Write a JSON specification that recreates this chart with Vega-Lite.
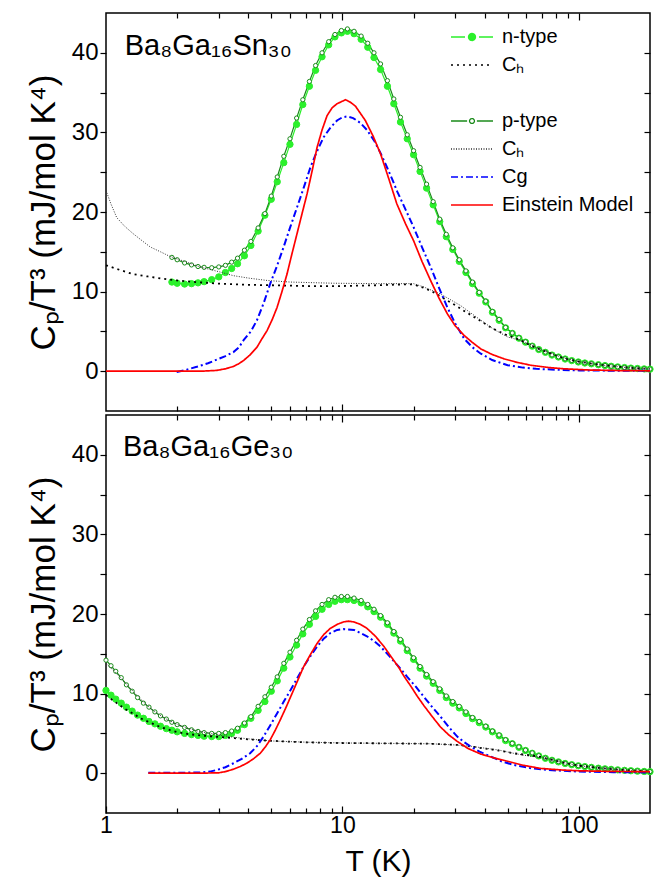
{
"$schema": "https://vega.github.io/schema/vega-lite/v6.json",
"background": "white",
"padding": {"left": 25, "top": 11, "right": 10, "bottom": 4},
"spacing": 0,
"config": {
 "view": {"stroke": "#000", "strokeWidth": 1.5},
 "font": "Liberation Sans",
 "axis": {"domain": false, "grid": false, "tickColor": "#000", "tickWidth": 1.2, "labelColor": "#000", "titleColor": "#000", "labelFont": "Liberation Sans", "titleFont": "Liberation Sans", "titleFontWeight": "normal", "labelFlush": false, "labelOverlap": false}
},
"datasets": {
 "top_pts": [
  {"series":"n-type","T":1.9,"v":11.2},{"series":"n-type","T":2.0,"v":11.05},{"series":"n-type","T":2.15,"v":10.95},{"series":"n-type","T":2.3,"v":11.0},{"series":"n-type","T":2.45,"v":11.1},{"series":"n-type","T":2.6,"v":11.25},{"series":"n-type","T":2.8,"v":11.5},{"series":"n-type","T":3.0,"v":11.85},{"series":"n-type","T":3.2,"v":12.4},{"series":"n-type","T":3.4,"v":12.9},{"series":"n-type","T":3.6,"v":13.5},{"series":"n-type","T":3.85,"v":14.5},{"series":"n-type","T":4.1,"v":15.8},{"series":"n-type","T":4.4,"v":17.6},{"series":"n-type","T":4.7,"v":19.6},{"series":"n-type","T":5.0,"v":21.6},{"series":"n-type","T":5.3,"v":23.8},{"series":"n-type","T":5.65,"v":26.2},{"series":"n-type","T":6.0,"v":28.5},{"series":"n-type","T":6.4,"v":31.0},{"series":"n-type","T":6.8,"v":33.5},{"series":"n-type","T":7.25,"v":35.8},{"series":"n-type","T":7.7,"v":37.8},{"series":"n-type","T":8.2,"v":39.5},{"series":"n-type","T":8.75,"v":41.0},{"series":"n-type","T":9.3,"v":42.0},{"series":"n-type","T":9.9,"v":42.5},{"series":"n-type","T":10.5,"v":42.7},{"series":"n-type","T":11.2,"v":42.4},{"series":"n-type","T":12,"v":41.7},{"series":"n-type","T":12.8,"v":40.7},{"series":"n-type","T":13.6,"v":39.4},{"series":"n-type","T":14.5,"v":37.9},{"series":"n-type","T":15.5,"v":35.8},{"series":"n-type","T":16.5,"v":33.6},{"series":"n-type","T":17.6,"v":31.3},{"series":"n-type","T":18.8,"v":29.2},{"series":"n-type","T":20,"v":27.2},{"series":"n-type","T":21.3,"v":25.1},{"series":"n-type","T":22.7,"v":23.0},{"series":"n-type","T":24.2,"v":20.9},{"series":"n-type","T":25.8,"v":18.8},{"series":"n-type","T":27.5,"v":16.9},{"series":"n-type","T":29.3,"v":15.3},{"series":"n-type","T":31.2,"v":13.8},{"series":"n-type","T":33.3,"v":12.4},{"series":"n-type","T":35.5,"v":11.0},{"series":"n-type","T":37.9,"v":9.8},{"series":"n-type","T":40.4,"v":8.7},{"series":"n-type","T":43.1,"v":7.4},{"series":"n-type","T":46,"v":6.4},{"series":"n-type","T":49,"v":5.45},{"series":"n-type","T":52.3,"v":4.75},{"series":"n-type","T":55.8,"v":4.15},{"series":"n-type","T":59.5,"v":3.65},{"series":"n-type","T":63.5,"v":3.15},{"series":"n-type","T":67.7,"v":2.72},{"series":"n-type","T":72.2,"v":2.37},{"series":"n-type","T":77,"v":2.03},{"series":"n-type","T":82,"v":1.78},{"series":"n-type","T":87.5,"v":1.53},{"series":"n-type","T":93.3,"v":1.33},{"series":"n-type","T":99.5,"v":1.16},{"series":"n-type","T":106,"v":1.03},{"series":"n-type","T":113,"v":0.93},{"series":"n-type","T":121,"v":0.81},{"series":"n-type","T":129,"v":0.71},{"series":"n-type","T":137,"v":0.62},{"series":"n-type","T":146,"v":0.54},{"series":"n-type","T":156,"v":0.46},{"series":"n-type","T":166,"v":0.39},{"series":"n-type","T":177,"v":0.34},{"series":"n-type","T":189,"v":0.29},{"series":"n-type","T":200,"v":0.26},
  {"series":"p-type","T":1.9,"v":14.3},{"series":"p-type","T":2.0,"v":14.0},{"series":"p-type","T":2.15,"v":13.6},{"series":"p-type","T":2.3,"v":13.35},{"series":"p-type","T":2.45,"v":13.15},{"series":"p-type","T":2.6,"v":13.05},{"series":"p-type","T":2.8,"v":13.0},{"series":"p-type","T":3.0,"v":13.1},{"series":"p-type","T":3.2,"v":13.3},{"series":"p-type","T":3.4,"v":13.7},{"series":"p-type","T":3.6,"v":14.2},{"series":"p-type","T":3.85,"v":15.2},{"series":"p-type","T":4.1,"v":16.3},{"series":"p-type","T":4.4,"v":18.0},{"series":"p-type","T":4.7,"v":19.8},{"series":"p-type","T":5.0,"v":22.0},{"series":"p-type","T":5.3,"v":24.4},{"series":"p-type","T":5.65,"v":27.0},{"series":"p-type","T":6.0,"v":29.2},{"series":"p-type","T":6.4,"v":31.8},{"series":"p-type","T":6.8,"v":34.1},{"series":"p-type","T":7.25,"v":36.4},{"series":"p-type","T":7.7,"v":38.4},{"series":"p-type","T":8.2,"v":40.0},{"series":"p-type","T":8.75,"v":41.4},{"series":"p-type","T":9.3,"v":42.3},{"series":"p-type","T":9.9,"v":42.8},{"series":"p-type","T":10.5,"v":43.0},{"series":"p-type","T":11.2,"v":42.7},{"series":"p-type","T":12,"v":42.1},{"series":"p-type","T":12.8,"v":41.2},{"series":"p-type","T":13.6,"v":40.0},{"series":"p-type","T":14.5,"v":38.6},{"series":"p-type","T":15.5,"v":36.5},{"series":"p-type","T":16.5,"v":34.2},{"series":"p-type","T":17.6,"v":31.9},{"series":"p-type","T":18.8,"v":29.7},{"series":"p-type","T":20,"v":27.7},{"series":"p-type","T":21.3,"v":25.6},{"series":"p-type","T":22.7,"v":23.5},{"series":"p-type","T":24.2,"v":21.3},{"series":"p-type","T":25.8,"v":19.1},{"series":"p-type","T":27.5,"v":17.2},{"series":"p-type","T":29.3,"v":15.5},{"series":"p-type","T":31.2,"v":14.0},{"series":"p-type","T":33.3,"v":12.6},{"series":"p-type","T":35.5,"v":11.2},{"series":"p-type","T":37.9,"v":9.9},{"series":"p-type","T":40.4,"v":8.8},{"series":"p-type","T":43.1,"v":7.5},{"series":"p-type","T":46,"v":6.5},{"series":"p-type","T":49,"v":5.5},{"series":"p-type","T":52.3,"v":4.8},{"series":"p-type","T":55.8,"v":4.2},{"series":"p-type","T":59.5,"v":3.7},{"series":"p-type","T":63.5,"v":3.2},{"series":"p-type","T":67.7,"v":2.75},{"series":"p-type","T":72.2,"v":2.4},{"series":"p-type","T":77,"v":2.05},{"series":"p-type","T":82,"v":1.8},{"series":"p-type","T":87.5,"v":1.55},{"series":"p-type","T":93.3,"v":1.35},{"series":"p-type","T":99.5,"v":1.18},{"series":"p-type","T":106,"v":1.05},{"series":"p-type","T":113,"v":0.95},{"series":"p-type","T":121,"v":0.83},{"series":"p-type","T":129,"v":0.73},{"series":"p-type","T":137,"v":0.63},{"series":"p-type","T":146,"v":0.55},{"series":"p-type","T":156,"v":0.47},{"series":"p-type","T":166,"v":0.4},{"series":"p-type","T":177,"v":0.35},{"series":"p-type","T":189,"v":0.3},{"series":"p-type","T":200,"v":0.27}
 ],
 "top_curves": [
  {"series":"Ch_n","T":1,"v":13.3},{"series":"Ch_n","T":1.15,"v":12.7},{"series":"Ch_n","T":1.3,"v":12.2},{"series":"Ch_n","T":1.5,"v":11.9},{"series":"Ch_n","T":1.75,"v":11.6},{"series":"Ch_n","T":2.0,"v":11.4},{"series":"Ch_n","T":2.4,"v":11.2},{"series":"Ch_n","T":3.0,"v":11.0},{"series":"Ch_n","T":4.0,"v":10.85},{"series":"Ch_n","T":5.0,"v":10.8},{"series":"Ch_n","T":7.0,"v":10.7},{"series":"Ch_n","T":10,"v":10.7},{"series":"Ch_n","T":14,"v":10.8},{"series":"Ch_n","T":18,"v":10.9},{"series":"Ch_n","T":20,"v":10.9},{"series":"Ch_n","T":22,"v":10.5},{"series":"Ch_n","T":24,"v":10.0},{"series":"Ch_n","T":27,"v":9.1},{"series":"Ch_n","T":30,"v":8.3},{"series":"Ch_n","T":33,"v":7.5},{"series":"Ch_n","T":38,"v":6.4},{"series":"Ch_n","T":43,"v":5.4},{"series":"Ch_n","T":49,"v":4.6},{"series":"Ch_n","T":56,"v":3.95},{"series":"Ch_n","T":62,"v":3.3},{"series":"Ch_n","T":67.7,"v":2.8},{"series":"Ch_n","T":75,"v":2.3},{"series":"Ch_n","T":82,"v":1.85},{"series":"Ch_n","T":90,"v":1.5},{"series":"Ch_n","T":100,"v":1.2},{"series":"Ch_n","T":115,"v":0.92},{"series":"Ch_n","T":130,"v":0.74},{"series":"Ch_n","T":150,"v":0.54},{"series":"Ch_n","T":170,"v":0.4},{"series":"Ch_n","T":200,"v":0.28},
  {"series":"Ch_p","T":1,"v":22.7},{"series":"Ch_p","T":1.05,"v":21.0},{"series":"Ch_p","T":1.11,"v":19.3},{"series":"Ch_p","T":1.2,"v":18.2},{"series":"Ch_p","T":1.3,"v":17.3},{"series":"Ch_p","T":1.42,"v":16.4},{"series":"Ch_p","T":1.54,"v":15.6},{"series":"Ch_p","T":1.7,"v":15.0},{"series":"Ch_p","T":1.84,"v":14.5},{"series":"Ch_p","T":2.0,"v":14.1},{"series":"Ch_p","T":2.2,"v":13.7},{"series":"Ch_p","T":2.5,"v":13.1},{"series":"Ch_p","T":3.0,"v":12.5},{"series":"Ch_p","T":3.46,"v":12.0},{"series":"Ch_p","T":4.0,"v":11.7},{"series":"Ch_p","T":4.8,"v":11.4},{"series":"Ch_p","T":6,"v":11.2},{"series":"Ch_p","T":9.2,"v":11.05},{"series":"Ch_p","T":14,"v":11.0},{"series":"Ch_p","T":20,"v":11.0},{"series":"Ch_p","T":22,"v":10.6},{"series":"Ch_p","T":26,"v":9.7},{"series":"Ch_p","T":31.6,"v":8.25},{"series":"Ch_p","T":38.5,"v":6.4},{"series":"Ch_p","T":44,"v":5.2},{"series":"Ch_p","T":50,"v":4.3},{"series":"Ch_p","T":56,"v":3.9},{"series":"Ch_p","T":62,"v":3.4},{"series":"Ch_p","T":70,"v":2.65},{"series":"Ch_p","T":85,"v":1.7},{"series":"Ch_p","T":100,"v":1.2},{"series":"Ch_p","T":115,"v":0.92},{"series":"Ch_p","T":130,"v":0.72},{"series":"Ch_p","T":150,"v":0.53},{"series":"Ch_p","T":170,"v":0.4},{"series":"Ch_p","T":200,"v":0.28},
  {"series":"Cg","T":1.99,"v":-0.1},{"series":"Cg","T":2.2,"v":0.2},{"series":"Cg","T":2.42,"v":0.55},{"series":"Cg","T":2.7,"v":1.0},{"series":"Cg","T":2.94,"v":1.45},{"series":"Cg","T":3.2,"v":1.9},{"series":"Cg","T":3.46,"v":2.4},{"series":"Cg","T":3.65,"v":3.0},{"series":"Cg","T":3.82,"v":3.9},{"series":"Cg","T":4.1,"v":5.0},{"series":"Cg","T":4.35,"v":6.4},{"series":"Cg","T":4.65,"v":8.6},{"series":"Cg","T":4.95,"v":11.0},{"series":"Cg","T":5.3,"v":13.3},{"series":"Cg","T":5.64,"v":15.6},{"series":"Cg","T":6.0,"v":18.0},{"series":"Cg","T":6.43,"v":20.6},{"series":"Cg","T":6.85,"v":23.0},{"series":"Cg","T":7.32,"v":25.6},{"series":"Cg","T":7.8,"v":27.6},{"series":"Cg","T":8.33,"v":29.4},{"series":"Cg","T":8.9,"v":30.6},{"series":"Cg","T":9.49,"v":31.5},{"series":"Cg","T":10.0,"v":31.9},{"series":"Cg","T":10.46,"v":32.0},{"series":"Cg","T":11.1,"v":31.8},{"series":"Cg","T":11.9,"v":31.2},{"series":"Cg","T":12.7,"v":30.3},{"series":"Cg","T":13.6,"v":29.0},{"series":"Cg","T":14.5,"v":27.4},{"series":"Cg","T":15.5,"v":25.5},{"series":"Cg","T":16.3,"v":24.0},{"series":"Cg","T":17.1,"v":22.5},{"series":"Cg","T":18.5,"v":20.3},{"series":"Cg","T":20,"v":18.1},{"series":"Cg","T":21.7,"v":15.6},{"series":"Cg","T":23.6,"v":13.1},{"series":"Cg","T":25.6,"v":10.5},{"series":"Cg","T":27.8,"v":8.0},{"series":"Cg","T":30,"v":6.0},{"series":"Cg","T":32.7,"v":4.1},{"series":"Cg","T":35.5,"v":3.0},{"series":"Cg","T":38.5,"v":2.2},{"series":"Cg","T":43,"v":1.4},{"series":"Cg","T":50,"v":0.75},{"series":"Cg","T":58,"v":0.45},{"series":"Cg","T":66,"v":0.3},{"series":"Cg","T":80,"v":0.18},{"series":"Cg","T":100,"v":0.1},{"series":"Cg","T":140,"v":0.06},{"series":"Cg","T":200,"v":0.04},
  {"series":"Einstein","T":1,"v":0},{"series":"Einstein","T":2.0,"v":0},{"series":"Einstein","T":2.6,"v":0.02},{"series":"Einstein","T":2.94,"v":0.1},{"series":"Einstein","T":3.2,"v":0.3},{"series":"Einstein","T":3.46,"v":0.6},{"series":"Einstein","T":3.65,"v":0.95},{"series":"Einstein","T":3.82,"v":1.35},{"series":"Einstein","T":4.05,"v":2.0},{"series":"Einstein","T":4.35,"v":3.0},{"series":"Einstein","T":4.55,"v":4.0},{"series":"Einstein","T":4.8,"v":5.1},{"series":"Einstein","T":5.05,"v":6.5},{"series":"Einstein","T":5.29,"v":8.0},{"series":"Einstein","T":5.55,"v":10.0},{"series":"Einstein","T":5.83,"v":12.2},{"series":"Einstein","T":6.1,"v":14.6},{"series":"Einstein","T":6.43,"v":17.3},{"series":"Einstein","T":6.75,"v":19.8},{"series":"Einstein","T":7.09,"v":22.3},{"series":"Einstein","T":7.45,"v":25.2},{"series":"Einstein","T":7.81,"v":28.1},{"series":"Einstein","T":8.2,"v":30.3},{"series":"Einstein","T":8.61,"v":32.1},{"series":"Einstein","T":9.05,"v":33.1},{"series":"Einstein","T":9.49,"v":33.6},{"series":"Einstein","T":10.3,"v":34.1},{"series":"Einstein","T":10.8,"v":33.8},{"series":"Einstein","T":11.35,"v":33.3},{"series":"Einstein","T":12.5,"v":31.5},{"series":"Einstein","T":13.5,"v":29.5},{"series":"Einstein","T":14.5,"v":27.3},{"series":"Einstein","T":15.7,"v":24.2},{"series":"Einstein","T":17,"v":21.0},{"series":"Einstein","T":18.5,"v":18.5},{"series":"Einstein","T":20,"v":16.4},{"series":"Einstein","T":21.7,"v":13.8},{"series":"Einstein","T":23.6,"v":11.4},{"series":"Einstein","T":25.6,"v":9.2},{"series":"Einstein","T":27.8,"v":7.2},{"series":"Einstein","T":30,"v":5.7},{"series":"Einstein","T":32.7,"v":4.5},{"series":"Einstein","T":35.5,"v":3.6},{"series":"Einstein","T":38.5,"v":2.8},{"series":"Einstein","T":43,"v":2.1},{"series":"Einstein","T":48.3,"v":1.55},{"series":"Einstein","T":55,"v":1.1},{"series":"Einstein","T":62.6,"v":0.75},{"series":"Einstein","T":75,"v":0.45},{"series":"Einstein","T":87,"v":0.3},{"series":"Einstein","T":110,"v":0.15},{"series":"Einstein","T":150,"v":0.08},{"series":"Einstein","T":200,"v":0.05}
 ],
 "bot_pts": [
  {"series":"n-type","T":1.0,"v":10.4},{"series":"n-type","T":1.05,"v":9.8},{"series":"n-type","T":1.1,"v":9.3},{"series":"n-type","T":1.16,"v":8.8},{"series":"n-type","T":1.22,"v":8.3},{"series":"n-type","T":1.29,"v":7.8},{"series":"n-type","T":1.36,"v":7.3},{"series":"n-type","T":1.44,"v":6.9},{"series":"n-type","T":1.52,"v":6.5},{"series":"n-type","T":1.61,"v":6.2},{"series":"n-type","T":1.7,"v":5.9},{"series":"n-type","T":1.8,"v":5.6},{"series":"n-type","T":1.9,"v":5.4},{"series":"n-type","T":2.0,"v":5.2},{"series":"n-type","T":2.15,"v":5.0},{"series":"n-type","T":2.3,"v":4.85},{"series":"n-type","T":2.45,"v":4.75},{"series":"n-type","T":2.6,"v":4.65},{"series":"n-type","T":2.8,"v":4.6},{"series":"n-type","T":3.0,"v":4.6},{"series":"n-type","T":3.2,"v":4.75},{"series":"n-type","T":3.4,"v":5.0},{"series":"n-type","T":3.6,"v":5.4},{"series":"n-type","T":3.85,"v":6.1},{"series":"n-type","T":4.1,"v":6.9},{"series":"n-type","T":4.4,"v":7.9},{"series":"n-type","T":4.7,"v":9.0},{"series":"n-type","T":5.0,"v":10.3},{"series":"n-type","T":5.3,"v":11.6},{"series":"n-type","T":5.65,"v":13.2},{"series":"n-type","T":6.0,"v":14.6},{"series":"n-type","T":6.4,"v":16.1},{"series":"n-type","T":6.8,"v":17.5},{"series":"n-type","T":7.25,"v":18.7},{"series":"n-type","T":7.7,"v":19.7},{"series":"n-type","T":8.2,"v":20.6},{"series":"n-type","T":8.75,"v":21.2},{"series":"n-type","T":9.3,"v":21.6},{"series":"n-type","T":9.9,"v":21.8},{"series":"n-type","T":10.5,"v":21.8},{"series":"n-type","T":11.2,"v":21.7},{"series":"n-type","T":12,"v":21.4},{"series":"n-type","T":12.8,"v":20.9},{"series":"n-type","T":13.6,"v":20.3},{"series":"n-type","T":14.5,"v":19.6},{"series":"n-type","T":15.5,"v":18.7},{"series":"n-type","T":16.5,"v":17.6},{"series":"n-type","T":17.6,"v":16.6},{"series":"n-type","T":18.8,"v":15.4},{"series":"n-type","T":20,"v":14.3},{"series":"n-type","T":21.3,"v":13.2},{"series":"n-type","T":22.7,"v":12.2},{"series":"n-type","T":24.2,"v":11.3},{"series":"n-type","T":25.8,"v":10.4},{"series":"n-type","T":27.5,"v":9.5},{"series":"n-type","T":29.3,"v":8.8},{"series":"n-type","T":31.2,"v":8.2},{"series":"n-type","T":33.3,"v":7.5},{"series":"n-type","T":35.5,"v":6.85},{"series":"n-type","T":37.9,"v":6.35},{"series":"n-type","T":40.4,"v":5.8},{"series":"n-type","T":43.1,"v":5.2},{"series":"n-type","T":46,"v":4.7},{"series":"n-type","T":49,"v":4.1},{"series":"n-type","T":52.3,"v":3.7},{"series":"n-type","T":55.8,"v":3.25},{"series":"n-type","T":59.5,"v":2.85},{"series":"n-type","T":63.5,"v":2.5},{"series":"n-type","T":67.7,"v":2.17},{"series":"n-type","T":72.2,"v":1.87},{"series":"n-type","T":77,"v":1.62},{"series":"n-type","T":82,"v":1.42},{"series":"n-type","T":87.5,"v":1.22},{"series":"n-type","T":93.3,"v":1.07},{"series":"n-type","T":99.5,"v":0.93},{"series":"n-type","T":106,"v":0.83},{"series":"n-type","T":113,"v":0.73},{"series":"n-type","T":121,"v":0.63},{"series":"n-type","T":129,"v":0.55},{"series":"n-type","T":137,"v":0.48},{"series":"n-type","T":146,"v":0.42},{"series":"n-type","T":156,"v":0.36},{"series":"n-type","T":166,"v":0.31},{"series":"n-type","T":177,"v":0.26},{"series":"n-type","T":189,"v":0.22},{"series":"n-type","T":200,"v":0.19},
  {"series":"p-type","T":1.0,"v":14.2},{"series":"p-type","T":1.05,"v":13.5},{"series":"p-type","T":1.1,"v":12.8},{"series":"p-type","T":1.16,"v":12.0},{"series":"p-type","T":1.22,"v":11.1},{"series":"p-type","T":1.29,"v":10.3},{"series":"p-type","T":1.36,"v":9.5},{"series":"p-type","T":1.44,"v":8.8},{"series":"p-type","T":1.52,"v":8.3},{"series":"p-type","T":1.61,"v":7.7},{"series":"p-type","T":1.7,"v":7.2},{"series":"p-type","T":1.8,"v":6.8},{"series":"p-type","T":1.9,"v":6.4},{"series":"p-type","T":2.0,"v":6.1},{"series":"p-type","T":2.15,"v":5.75},{"series":"p-type","T":2.3,"v":5.45},{"series":"p-type","T":2.45,"v":5.25},{"series":"p-type","T":2.6,"v":5.1},{"series":"p-type","T":2.8,"v":5.0},{"series":"p-type","T":3.0,"v":5.0},{"series":"p-type","T":3.2,"v":5.1},{"series":"p-type","T":3.4,"v":5.3},{"series":"p-type","T":3.6,"v":5.65},{"series":"p-type","T":3.85,"v":6.3},{"series":"p-type","T":4.1,"v":7.1},{"series":"p-type","T":4.4,"v":8.4},{"series":"p-type","T":4.7,"v":9.6},{"series":"p-type","T":5.0,"v":10.8},{"series":"p-type","T":5.3,"v":12.1},{"series":"p-type","T":5.65,"v":13.8},{"series":"p-type","T":6.0,"v":15.2},{"series":"p-type","T":6.4,"v":16.7},{"series":"p-type","T":6.8,"v":18.1},{"series":"p-type","T":7.25,"v":19.3},{"series":"p-type","T":7.7,"v":20.4},{"series":"p-type","T":8.2,"v":21.2},{"series":"p-type","T":8.75,"v":21.8},{"series":"p-type","T":9.3,"v":22.1},{"series":"p-type","T":9.9,"v":22.2},{"series":"p-type","T":10.5,"v":22.2},{"series":"p-type","T":11.2,"v":22.0},{"series":"p-type","T":12,"v":21.7},{"series":"p-type","T":12.8,"v":21.2},{"series":"p-type","T":13.6,"v":20.6},{"series":"p-type","T":14.5,"v":19.8},{"series":"p-type","T":15.5,"v":18.9},{"series":"p-type","T":16.5,"v":17.8},{"series":"p-type","T":17.6,"v":16.8},{"series":"p-type","T":18.8,"v":15.6},{"series":"p-type","T":20,"v":14.5},{"series":"p-type","T":21.3,"v":13.4},{"series":"p-type","T":22.7,"v":12.4},{"series":"p-type","T":24.2,"v":11.5},{"series":"p-type","T":25.8,"v":10.6},{"series":"p-type","T":27.5,"v":9.7},{"series":"p-type","T":29.3,"v":9.0},{"series":"p-type","T":31.2,"v":8.4},{"series":"p-type","T":33.3,"v":7.7},{"series":"p-type","T":35.5,"v":7.0},{"series":"p-type","T":37.9,"v":6.5},{"series":"p-type","T":40.4,"v":5.9},{"series":"p-type","T":43.1,"v":5.3},{"series":"p-type","T":46,"v":4.8},{"series":"p-type","T":49,"v":4.2},{"series":"p-type","T":52.3,"v":3.75},{"series":"p-type","T":55.8,"v":3.3},{"series":"p-type","T":59.5,"v":2.9},{"series":"p-type","T":63.5,"v":2.55},{"series":"p-type","T":67.7,"v":2.2},{"series":"p-type","T":72.2,"v":1.9},{"series":"p-type","T":77,"v":1.65},{"series":"p-type","T":82,"v":1.45},{"series":"p-type","T":87.5,"v":1.25},{"series":"p-type","T":93.3,"v":1.1},{"series":"p-type","T":99.5,"v":0.95},{"series":"p-type","T":106,"v":0.85},{"series":"p-type","T":113,"v":0.75},{"series":"p-type","T":121,"v":0.65},{"series":"p-type","T":129,"v":0.57},{"series":"p-type","T":137,"v":0.5},{"series":"p-type","T":146,"v":0.44},{"series":"p-type","T":156,"v":0.38},{"series":"p-type","T":166,"v":0.33},{"series":"p-type","T":177,"v":0.28},{"series":"p-type","T":189,"v":0.24},{"series":"p-type","T":200,"v":0.2}
 ],
 "bot_curves": [
  {"series":"Ch_n","T":1,"v":9.8},{"series":"Ch_n","T":1.1,"v":8.9},{"series":"Ch_n","T":1.2,"v":8.1},{"series":"Ch_n","T":1.3,"v":7.5},{"series":"Ch_n","T":1.4,"v":6.9},{"series":"Ch_n","T":1.55,"v":6.3},{"series":"Ch_n","T":1.7,"v":5.8},{"series":"Ch_n","T":1.85,"v":5.45},{"series":"Ch_n","T":2.0,"v":5.15},{"series":"Ch_n","T":2.25,"v":4.9},{"series":"Ch_n","T":2.5,"v":4.75},{"series":"Ch_n","T":3.0,"v":4.55},{"series":"Ch_n","T":3.5,"v":4.4},{"series":"Ch_n","T":4.0,"v":4.25},{"series":"Ch_n","T":4.8,"v":4.1},{"series":"Ch_n","T":6.6,"v":3.9},{"series":"Ch_n","T":9.2,"v":3.8},{"series":"Ch_n","T":15,"v":3.75},{"series":"Ch_n","T":23.6,"v":3.7},{"series":"Ch_n","T":30.6,"v":3.55},{"series":"Ch_n","T":35,"v":3.35},{"series":"Ch_n","T":40,"v":3.1},{"series":"Ch_n","T":46,"v":2.85},{"series":"Ch_n","T":53,"v":2.5},{"series":"Ch_n","T":60,"v":2.3},{"series":"Ch_n","T":67.7,"v":2.1},{"series":"Ch_n","T":74,"v":1.8},{"series":"Ch_n","T":87,"v":1.3},{"series":"Ch_n","T":100,"v":0.95},{"series":"Ch_n","T":115,"v":0.75},{"series":"Ch_n","T":130,"v":0.57},{"series":"Ch_n","T":160,"v":0.37},{"series":"Ch_n","T":200,"v":0.2},
  {"series":"Ch_p","T":1,"v":13.8},{"series":"Ch_p","T":1.05,"v":13.2},{"series":"Ch_p","T":1.1,"v":12.6},{"series":"Ch_p","T":1.16,"v":11.9},{"series":"Ch_p","T":1.22,"v":11.2},{"series":"Ch_p","T":1.3,"v":10.3},{"series":"Ch_p","T":1.38,"v":9.5},{"series":"Ch_p","T":1.46,"v":8.8},{"series":"Ch_p","T":1.55,"v":8.1},{"series":"Ch_p","T":1.65,"v":7.5},{"series":"Ch_p","T":1.8,"v":6.8},{"series":"Ch_p","T":2.0,"v":6.15},{"series":"Ch_p","T":2.2,"v":5.7},{"series":"Ch_p","T":2.45,"v":5.3},{"series":"Ch_p","T":2.7,"v":5.05},{"series":"Ch_p","T":3.0,"v":4.8},{"series":"Ch_p","T":3.5,"v":4.5},{"series":"Ch_p","T":4.2,"v":4.25},{"series":"Ch_p","T":5,"v":4.05},{"series":"Ch_p","T":7,"v":3.9},{"series":"Ch_p","T":10,"v":3.8},{"series":"Ch_p","T":15,"v":3.75},{"series":"Ch_p","T":23.6,"v":3.7},{"series":"Ch_p","T":30,"v":3.55},{"series":"Ch_p","T":35,"v":3.38},{"series":"Ch_p","T":40,"v":3.15},{"series":"Ch_p","T":46,"v":2.9},{"series":"Ch_p","T":53,"v":2.5},{"series":"Ch_p","T":60,"v":2.2},{"series":"Ch_p","T":67.7,"v":2.0},{"series":"Ch_p","T":74,"v":1.82},{"series":"Ch_p","T":87,"v":1.3},{"series":"Ch_p","T":100,"v":0.95},{"series":"Ch_p","T":115,"v":0.75},{"series":"Ch_p","T":130,"v":0.57},{"series":"Ch_p","T":160,"v":0.37},{"series":"Ch_p","T":200,"v":0.2},
  {"series":"Cg","T":1.51,"v":0.05},{"series":"Cg","T":2.0,"v":0.05},{"series":"Cg","T":2.5,"v":0.1},{"series":"Cg","T":2.75,"v":0.2},{"series":"Cg","T":2.94,"v":0.4},{"series":"Cg","T":3.2,"v":0.75},{"series":"Cg","T":3.46,"v":1.25},{"series":"Cg","T":3.75,"v":1.8},{"series":"Cg","T":4.07,"v":2.5},{"series":"Cg","T":4.35,"v":3.4},{"series":"Cg","T":4.64,"v":4.6},{"series":"Cg","T":4.95,"v":6.0},{"series":"Cg","T":5.29,"v":7.5},{"series":"Cg","T":5.65,"v":9.0},{"series":"Cg","T":6.02,"v":10.4},{"series":"Cg","T":6.43,"v":11.9},{"series":"Cg","T":6.86,"v":13.4},{"series":"Cg","T":7.32,"v":14.7},{"series":"Cg","T":7.81,"v":15.9},{"series":"Cg","T":8.33,"v":16.9},{"series":"Cg","T":8.89,"v":17.6},{"series":"Cg","T":9.5,"v":18.0},{"series":"Cg","T":10.1,"v":18.1},{"series":"Cg","T":11.2,"v":18.0},{"series":"Cg","T":12.7,"v":17.2},{"series":"Cg","T":13.6,"v":16.6},{"series":"Cg","T":14.5,"v":15.9},{"series":"Cg","T":15.8,"v":14.7},{"series":"Cg","T":17.3,"v":13.4},{"series":"Cg","T":18.8,"v":12.1},{"series":"Cg","T":20.4,"v":10.9},{"series":"Cg","T":22.1,"v":9.6},{"series":"Cg","T":24,"v":8.3},{"series":"Cg","T":26,"v":7.1},{"series":"Cg","T":28.2,"v":5.8},{"series":"Cg","T":30.6,"v":4.6},{"series":"Cg","T":32.7,"v":3.9},{"series":"Cg","T":34.9,"v":3.35},{"series":"Cg","T":38,"v":2.7},{"series":"Cg","T":42.4,"v":2.1},{"series":"Cg","T":47,"v":1.5},{"series":"Cg","T":53,"v":1.04},{"series":"Cg","T":62,"v":0.65},{"series":"Cg","T":73.6,"v":0.4},{"series":"Cg","T":100,"v":0.2},{"series":"Cg","T":140,"v":0.13},{"series":"Cg","T":200,"v":0.1},
  {"series":"Einstein","T":1.51,"v":0},{"series":"Einstein","T":2.5,"v":0},{"series":"Einstein","T":3.0,"v":0.05},{"series":"Einstein","T":3.2,"v":0.2},{"series":"Einstein","T":3.46,"v":0.5},{"series":"Einstein","T":3.7,"v":0.85},{"series":"Einstein","T":3.94,"v":1.25},{"series":"Einstein","T":4.2,"v":1.8},{"series":"Einstein","T":4.49,"v":2.5},{"series":"Einstein","T":4.72,"v":3.3},{"series":"Einstein","T":4.95,"v":4.2},{"series":"Einstein","T":5.2,"v":5.4},{"series":"Einstein","T":5.46,"v":6.7},{"series":"Einstein","T":5.78,"v":8.3},{"series":"Einstein","T":6.12,"v":10.0},{"series":"Einstein","T":6.48,"v":11.7},{"series":"Einstein","T":6.86,"v":13.4},{"series":"Einstein","T":7.32,"v":14.9},{"series":"Einstein","T":7.81,"v":16.3},{"series":"Einstein","T":8.33,"v":17.4},{"series":"Einstein","T":8.89,"v":18.2},{"series":"Einstein","T":9.5,"v":18.7},{"series":"Einstein","T":10.1,"v":19.0},{"series":"Einstein","T":10.6,"v":19.1},{"series":"Einstein","T":11.2,"v":19.0},{"series":"Einstein","T":11.9,"v":18.7},{"series":"Einstein","T":12.7,"v":18.2},{"series":"Einstein","T":13.8,"v":17.2},{"series":"Einstein","T":15,"v":15.9},{"series":"Einstein","T":16.1,"v":14.6},{"series":"Einstein","T":17.3,"v":13.3},{"series":"Einstein","T":18.2,"v":12.2},{"series":"Einstein","T":19.5,"v":10.9},{"series":"Einstein","T":20.7,"v":9.7},{"series":"Einstein","T":22.1,"v":8.5},{"series":"Einstein","T":24,"v":7.1},{"series":"Einstein","T":26,"v":5.8},{"series":"Einstein","T":28.2,"v":4.8},{"series":"Einstein","T":30.6,"v":4.0},{"series":"Einstein","T":34,"v":3.1},{"series":"Einstein","T":38.5,"v":2.4},{"series":"Einstein","T":44,"v":1.9},{"series":"Einstein","T":50,"v":1.5},{"series":"Einstein","T":58,"v":1.0},{"series":"Einstein","T":69,"v":0.6},{"series":"Einstein","T":85,"v":0.4},{"series":"Einstein","T":100,"v":0.3},{"series":"Einstein","T":140,"v":0.22},{"series":"Einstein","T":200,"v":0.2}
 ]
},
"vconcat": [
 {
  "width": 544, "height": 398,
  "resolve": {"axis": {"x": "independent", "y": "independent"}},
  "layer": [
   {
    "data": {"name": "top_pts"},
    "mark": {"type": "line", "strokeWidth": 1.2},
    "encoding": {
     "x": {"field": "T", "type": "quantitative", "scale": {"type": "log", "domain": [1, 200], "nice": false}, "axis": {"orient": "bottom", "values": [2,3,4,5,6,7,8,9,20,30,40,50,60,70,80,90], "labels": false, "tickSize": -5, "title": null}},
     "y": {"field": "v", "type": "quantitative", "scale": {"domain": [-5, 45], "nice": false, "zero": false}, "axis": {"orient": "right", "values": [0,5,10,15,20,25,30,35,40], "labels": false, "tickSize": -6, "title": null}},
     "stroke": {"field": "series", "type": "nominal", "scale": {"domain": ["n-type","Ch_n","gap","p-type","Ch_p","Cg","Einstein"], "range": ["#2BF02B","#000000","transparent","#1A8A1A","#333333","#0000FF","#FF0000"]}}
    }
   },
   {
    "data": {"name": "top_pts"},
    "mark": {"type": "point", "shape": "circle", "filled": true, "strokeWidth": 1, "opacity": 1},
    "encoding": {
     "x": {"field": "T", "type": "quantitative", "scale": {"type": "log", "domain": [1, 200], "nice": false}, "axis": {"orient": "top", "values": [10,100], "labels": false, "tickSize": -7, "title": null}},
     "y": {"field": "v", "type": "quantitative", "scale": {"domain": [-5, 45], "nice": false, "zero": false}, "axis": null},
     "stroke": {"field": "series", "type": "nominal", "scale": {"domain": ["n-type","Ch_n","gap","p-type","Ch_p","Cg","Einstein"], "range": ["#2BF02B","#000000","transparent","#1A8A1A","#333333","#0000FF","#FF0000"]}},
     "fill": {"field": "series", "type": "nominal", "scale": {"domain": ["n-type","Ch_n","gap","p-type","Ch_p","Cg","Einstein"], "range": ["#2BF02B","transparent","transparent","#FFFFFF","transparent","transparent","transparent"]}},
     "size": {"field": "series", "type": "nominal", "scale": {"type": "ordinal", "domain": ["n-type","p-type"], "range": [40, 18]}, "legend": null}
    }
   },
   {
    "data": {"name": "top_curves"},
    "mark": {"type": "line"},
    "encoding": {
     "x": {"field": "T", "type": "quantitative", "scale": {"type": "log", "domain": [1, 200], "nice": false}, "axis": {"orient": "bottom", "values": [10,100], "labels": false, "tickSize": -7, "title": null}},
     "y": {"field": "v", "type": "quantitative", "scale": {"domain": [-5, 45], "nice": false, "zero": false}, "axis": {"orient": "left", "values": [0,5,10,15,20,25,30,35,40], "labelExpr": "datum.value % 10 === 0 ? datum.label : ''", "tickSize": 6, "labelFontSize": 24, "labelPadding": 2, "title": "Cₚ/T³ (mJ/mol K⁴)", "titleFontSize": 35, "titlePadding": 10}},
     "stroke": {"field": "series", "type": "nominal", "scale": {"domain": ["n-type","Ch_n","gap","p-type","Ch_p","Cg","Einstein"], "range": ["#2BF02B","#000000","transparent","#1A8A1A","#333333","#0000FF","#FF0000"]}},
     "strokeDash": {"field": "series", "type": "nominal", "scale": {"domain": ["n-type","Ch_n","gap","p-type","Ch_p","Cg","Einstein"], "range": [[1,0],[2,4],[1,0],[1,0],[1,1.5],[7,3,2,3],[1,0]]}},
     "strokeWidth": {"field": "series", "type": "nominal", "scale": {"type": "ordinal", "domain": ["Ch_n","Ch_p","Cg","Einstein"], "range": [1.8, 1, 2, 1.7]}, "legend": null}
    }
   },
   {
    "data": {"values": [{"label": "Ba₈Ga₁₆Sn₃₀"}]},
    "mark": {"type": "text", "align": "left", "baseline": "alphabetic", "fontSize": 29, "font": "Liberation Sans", "color": "#000"},
    "encoding": {
     "x": {"datum": 1.2, "type": "quantitative", "scale": {"type": "log", "domain": [1, 200], "nice": false}, "axis": {"orient": "top", "values": [2,3,4,5,6,7,8,9,20,30,40,50,60,70,80,90], "labels": false, "tickSize": -5, "title": null}},
     "y": {"datum": 39.7, "type": "quantitative", "axis": null},
     "text": {"field": "label", "type": "nominal"}
    }
   },
   {
    "data": {"values": []},
    "mark": {"type": "point", "filled": true},
    "encoding": {
     "fill": {"field": "series", "type": "nominal", "scale": {"domain": ["n-type","Ch_n","gap","p-type","Ch_p","Cg","Einstein"], "range": ["#2BF02B","transparent","transparent","#FFFFFF","transparent","transparent","transparent"]}, "legend": {"title": null, "orient": "none", "legendX": 345, "legendY": 14, "labelExpr": "datum.value === 'gap' ? '' : (datum.value === 'Ch_n' || datum.value === 'Ch_p') ? 'Cₕ' : datum.value === 'Einstein' ? 'Einstein Model' : datum.value", "symbolSize": 196, "symbolStrokeWidth": 1.3, "symbolOffset": 11, "labelOffset": 20, "rowPadding": 8, "labelFontSize": 20, "labelFont": "Liberation Sans", "labelColor": "#000", "padding": 0, "labelLimit": 300}},
     "stroke": {"field": "series", "type": "nominal", "scale": {"domain": ["n-type","Ch_n","gap","p-type","Ch_p","Cg","Einstein"], "range": ["#2BF02B","#000000","transparent","#1A8A1A","#333333","#0000FF","#FF0000"]}, "legend": {"title": null, "orient": "none", "legendX": 345, "legendY": 14, "labelExpr": "datum.value === 'gap' ? '' : (datum.value === 'Ch_n' || datum.value === 'Ch_p') ? 'Cₕ' : datum.value === 'Einstein' ? 'Einstein Model' : datum.value", "symbolSize": 196, "symbolStrokeWidth": 1.3, "symbolOffset": 11, "labelOffset": 20, "rowPadding": 8, "labelFontSize": 20, "labelFont": "Liberation Sans", "labelColor": "#000", "padding": 0, "labelLimit": 300}},
     "strokeDash": {"field": "series", "type": "nominal", "scale": {"domain": ["n-type","Ch_n","gap","p-type","Ch_p","Cg","Einstein"], "range": [[1,0],[2,4],[1,0],[1,0],[1,1.5],[7,3,2,3],[1,0]]}, "legend": {"title": null, "orient": "none", "legendX": 345, "legendY": 14, "labelExpr": "datum.value === 'gap' ? '' : (datum.value === 'Ch_n' || datum.value === 'Ch_p') ? 'Cₕ' : datum.value === 'Einstein' ? 'Einstein Model' : datum.value", "symbolSize": 196, "symbolStrokeWidth": 1.3, "symbolOffset": 11, "labelOffset": 20, "rowPadding": 8, "labelFontSize": 20, "labelFont": "Liberation Sans", "labelColor": "#000", "padding": 0, "labelLimit": 300}},
     "shape": {"field": "series", "type": "nominal", "scale": {"domain": ["n-type","Ch_n","gap","p-type","Ch_p","Cg","Einstein"], "range": ["M-3,0H-1M1,0H3M0.5,0A0.5,0.5,0,1,1,-0.5,0A0.5,0.5,0,1,1,0.5,0Z","M-3,0H3","M-3,0H3","M-3,0H-0.7M0.7,0H3M0.35,0A0.35,0.35,0,1,1,-0.35,0A0.35,0.35,0,1,1,0.35,0Z","M-3,0H3","M-3,0H3","M-3,0H3"]}, "legend": {"title": null, "orient": "none", "legendX": 345, "legendY": 14, "labelExpr": "datum.value === 'gap' ? '' : (datum.value === 'Ch_n' || datum.value === 'Ch_p') ? 'Cₕ' : datum.value === 'Einstein' ? 'Einstein Model' : datum.value", "symbolSize": 196, "symbolStrokeWidth": 1.3, "symbolOffset": 11, "labelOffset": 20, "rowPadding": 8, "labelFontSize": 20, "labelFont": "Liberation Sans", "labelColor": "#000", "padding": 0, "labelLimit": 300}}
    }
   }
  ]
 },
 {
  "width": 544, "height": 398,
  "resolve": {"axis": {"x": "independent", "y": "independent"}},
  "layer": [
   {
    "data": {"name": "bot_pts"},
    "mark": {"type": "line", "strokeWidth": 1.2},
    "encoding": {
     "x": {"field": "T", "type": "quantitative", "scale": {"type": "log", "domain": [1, 200], "nice": false}, "axis": {"orient": "bottom", "values": [2,3,4,5,6,7,8,9,20,30,40,50,60,70,80,90], "labels": false, "tickSize": -5, "title": null}},
     "y": {"field": "v", "type": "quantitative", "scale": {"domain": [-5, 45], "nice": false, "zero": false}, "axis": {"orient": "right", "values": [0,5,10,15,20,25,30,35,40], "labels": false, "tickSize": -6, "title": null}},
     "stroke": {"field": "series", "type": "nominal", "scale": {"domain": ["n-type","Ch_n","Cg","Einstein","gap","p-type","Ch_p"], "range": ["#2BF02B","#000000","#0000FF","#FF0000","transparent","#1A8A1A","#333333"]}}
    }
   },
   {
    "data": {"name": "bot_pts"},
    "mark": {"type": "point", "shape": "circle", "filled": true, "strokeWidth": 1, "opacity": 1},
    "encoding": {
     "x": {"field": "T", "type": "quantitative", "scale": {"type": "log", "domain": [1, 200], "nice": false}, "axis": {"orient": "top", "values": [10,100], "labels": false, "tickSize": -7, "title": null}},
     "y": {"field": "v", "type": "quantitative", "scale": {"domain": [-5, 45], "nice": false, "zero": false}, "axis": null},
     "stroke": {"field": "series", "type": "nominal", "scale": {"domain": ["n-type","Ch_n","Cg","Einstein","gap","p-type","Ch_p"], "range": ["#2BF02B","#000000","#0000FF","#FF0000","transparent","#1A8A1A","#333333"]}},
     "fill": {"field": "series", "type": "nominal", "scale": {"domain": ["n-type","Ch_n","Cg","Einstein","gap","p-type","Ch_p"], "range": ["#2BF02B","transparent","transparent","transparent","transparent","#FFFFFF","transparent"]}},
     "size": {"field": "series", "type": "nominal", "scale": {"type": "ordinal", "domain": ["n-type","p-type"], "range": [40, 18]}, "legend": null}
    }
   },
   {
    "data": {"name": "bot_curves"},
    "mark": {"type": "line"},
    "encoding": {
     "x": {"field": "T", "type": "quantitative", "scale": {"type": "log", "domain": [1, 200], "nice": false}, "axis": {"orient": "bottom", "values": [1,10,100], "tickSize": -7, "labelFontSize": 23, "labelPadding": 8, "title": "T (K)", "titleFontSize": 30, "titlePadding": 9}},
     "y": {"field": "v", "type": "quantitative", "scale": {"domain": [-5, 45], "nice": false, "zero": false}, "axis": {"orient": "left", "values": [0,5,10,15,20,25,30,35,40], "labelExpr": "datum.value % 10 === 0 ? datum.label : ''", "tickSize": 6, "labelFontSize": 24, "labelPadding": 2, "title": "Cₚ/T³ (mJ/mol K⁴)", "titleFontSize": 35, "titlePadding": 10}},
     "stroke": {"field": "series", "type": "nominal", "scale": {"domain": ["n-type","Ch_n","Cg","Einstein","gap","p-type","Ch_p"], "range": ["#2BF02B","#000000","#0000FF","#FF0000","transparent","#1A8A1A","#333333"]}},
     "strokeDash": {"field": "series", "type": "nominal", "scale": {"domain": ["n-type","Ch_n","Cg","Einstein","gap","p-type","Ch_p"], "range": [[1,0],[2,4],[7,3,2,3],[1,0],[1,0],[1,0],[1,1.5]]}},
     "strokeWidth": {"field": "series", "type": "nominal", "scale": {"type": "ordinal", "domain": ["Ch_n","Ch_p","Cg","Einstein"], "range": [1.8, 1, 2, 1.7]}, "legend": null}
    }
   },
   {
    "data": {"values": [{"label": "Ba₈Ga₁₆Ge₃₀"}]},
    "mark": {"type": "text", "align": "left", "baseline": "alphabetic", "fontSize": 29, "font": "Liberation Sans", "color": "#000"},
    "encoding": {
     "x": {"datum": 1.18, "type": "quantitative", "scale": {"type": "log", "domain": [1, 200], "nice": false}, "axis": {"orient": "top", "values": [2,3,4,5,6,7,8,9,20,30,40,50,60,70,80,90], "labels": false, "tickSize": -5, "title": null}},
     "y": {"datum": 39.9, "type": "quantitative", "axis": null},
     "text": {"field": "label", "type": "nominal"}
    }
   },
   {
    "data": {"values": []},
    "mark": {"type": "point", "filled": true},
    "encoding": {
     "fill": {"field": "series", "type": "nominal", "scale": {"domain": ["n-type","Ch_n","Cg","Einstein","gap","p-type","Ch_p"], "range": ["#2BF02B","transparent","transparent","transparent","transparent","#FFFFFF","transparent"]}, "legend": {"title": null, "orient": "none", "legendX": 345, "legendY": 14, "labelExpr": "datum.value === 'gap' ? '' : (datum.value === 'Ch_n' || datum.value === 'Ch_p') ? 'Cₕ' : datum.value === 'Einstein' ? 'Einstein Model' : datum.value", "symbolSize": 196, "symbolStrokeWidth": 1.3, "symbolOffset": 11, "labelOffset": 20, "rowPadding": 7, "labelFontSize": 20, "labelFont": "Liberation Sans", "labelColor": "#000", "padding": 0, "labelLimit": 300}},
     "stroke": {"field": "series", "type": "nominal", "scale": {"domain": ["n-type","Ch_n","Cg","Einstein","gap","p-type","Ch_p"], "range": ["#2BF02B","#000000","#0000FF","#FF0000","transparent","#1A8A1A","#333333"]}, "legend": {"title": null, "orient": "none", "legendX": 345, "legendY": 14, "labelExpr": "datum.value === 'gap' ? '' : (datum.value === 'Ch_n' || datum.value === 'Ch_p') ? 'Cₕ' : datum.value === 'Einstein' ? 'Einstein Model' : datum.value", "symbolSize": 196, "symbolStrokeWidth": 1.3, "symbolOffset": 11, "labelOffset": 20, "rowPadding": 7, "labelFontSize": 20, "labelFont": "Liberation Sans", "labelColor": "#000", "padding": 0, "labelLimit": 300}},
     "strokeDash": {"field": "series", "type": "nominal", "scale": {"domain": ["n-type","Ch_n","Cg","Einstein","gap","p-type","Ch_p"], "range": [[1,0],[2,4],[7,3,2,3],[1,0],[1,0],[1,0],[1,1.5]]}, "legend": {"title": null, "orient": "none", "legendX": 345, "legendY": 14, "labelExpr": "datum.value === 'gap' ? '' : (datum.value === 'Ch_n' || datum.value === 'Ch_p') ? 'Cₕ' : datum.value === 'Einstein' ? 'Einstein Model' : datum.value", "symbolSize": 196, "symbolStrokeWidth": 1.3, "symbolOffset": 11, "labelOffset": 20, "rowPadding": 7, "labelFontSize": 20, "labelFont": "Liberation Sans", "labelColor": "#000", "padding": 0, "labelLimit": 300}},
     "shape": {"field": "series", "type": "nominal", "scale": {"domain": ["n-type","Ch_n","Cg","Einstein","gap","p-type","Ch_p"], "range": ["M-3,0H-1M1,0H3M0.5,0A0.5,0.5,0,1,1,-0.5,0A0.5,0.5,0,1,1,0.5,0Z","M-3,0H3","M-3,0H3","M-3,0H3","M-3,0H3","M-3,0H-0.7M0.7,0H3M0.35,0A0.35,0.35,0,1,1,-0.35,0A0.35,0.35,0,1,1,0.35,0Z","M-3,0H3"]}, "legend": {"title": null, "orient": "none", "legendX": 345, "legendY": 14, "labelExpr": "datum.value === 'gap' ? '' : (datum.value === 'Ch_n' || datum.value === 'Ch_p') ? 'Cₕ' : datum.value === 'Einstein' ? 'Einstein Model' : datum.value", "symbolSize": 196, "symbolStrokeWidth": 1.3, "symbolOffset": 11, "labelOffset": 20, "rowPadding": 7, "labelFontSize": 20, "labelFont": "Liberation Sans", "labelColor": "#000", "padding": 0, "labelLimit": 300}}
    }
   }
  ]
 }
]
}
